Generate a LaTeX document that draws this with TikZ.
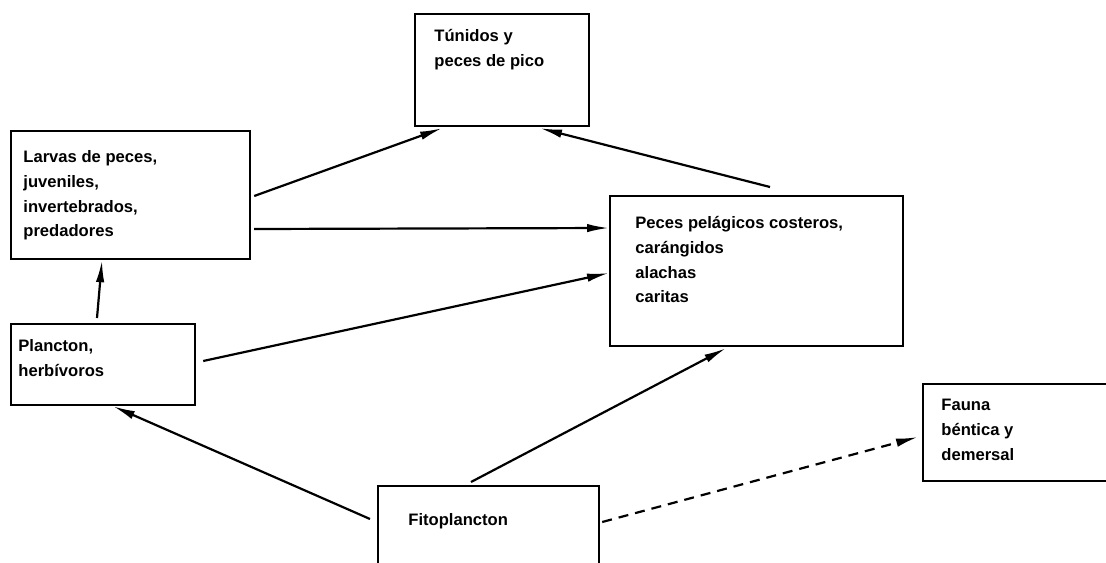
\documentclass[tikz,border=0pt]{standalone}
\usepackage{fontspec}
\setmainfont{Liberation Sans}
\usetikzlibrary{positioning,arrows.meta,calc}
\tikzset{
    x=0.5pt,
    y=-0.5pt,
    box/.style = {
        draw,
        shape=rectangle,
        anchor=north west,
        inner sep=0pt,
        line width=1.1pt
    },
    txt/.style = {
        anchor=north west,
        align=left,
        inner sep=0pt,
        font=\fontsize{8.3}{12.4}\selectfont\bfseries
    },
    link/.style = {
        draw,
        ->,
        line width=1.1pt
    },
    >={Latex[length=11pt,width=4.2pt]},
}
\begin{document}
\begin{tikzpicture}
            \useasboundingbox (0,0) rectangle (1106,562);

            \node[box, minimum width=87pt, minimum height=56pt] (tunidos) at (414,13) {};
            \node[box, minimum width=119.5pt, minimum height=64pt] (larvas) at (10,130) {};
            \node[box, minimum width=146.5pt, minimum height=75pt] (peces) at (609,195) {};
            \node[box, minimum width=92pt, minimum height=40.5pt] (plancton) at (10,323) {};
            \node[box, minimum width=100pt, minimum height=48.5pt] (fauna) at (922,383) {};
            \node[box, minimum width=110.5pt, minimum height=50pt] (fito) at (377,485) {};

            \node[txt] (tunidostxt) at ([shift={(20,16)}]tunidos.north west) {Túnidos y\\peces de pico};
            \node[txt] (larvastxt) at ([shift={(13,20)}]larvas.north west) {Larvas de peces,\\juveniles,\\invertebrados,\\predadores};
            \node[txt] (pecestxt) at ([shift={(26,21)}]peces.north west) {Peces pelágicos costeros,\\carángidos\\alachas\\caritas};
            \node[txt] (planctontxt) at ([shift={(8,16)}]plancton.north west) {Plancton,\\herbívoros};
            \node[txt] (faunatxt) at ([shift={(19,16)}]fauna.north west) {Fauna\\béntica y\\demersal};
            \node[txt] (fitotxt) at ([shift={(31,28)}]fito.north west) {Fitoplancton};

            \path[link] ([shift={(3,66)}]larvas.north east) -- ([shift={(28,1)}]tunidos.south west);
            \path[link] ([shift={(161,-8)}]peces.north west) -- ([shift={(126,1)}]tunidos.south west);
            \path[link] ([shift={(3,99)}]larvas.north east) -- ([shift={(0,33)}]peces.north west);
            \path[link] ([shift={(7,38)}]plancton.north east) -- ([shift={(0,78)}]peces.north west);
            \path[link] ([shift={(87,-5)}]plancton.north west) -- ([shift={(92,0)}]larvas.south west);
            \path[link] ([shift={(-7,34)}]fito.north west) -- ([shift={(103,0)}]plancton.south west);
            \path[link] ([shift={(94,-3)}]fito.north west) -- ([shift={(117,1)}]peces.south west);
            \path[link, dash pattern=on 5pt off 3.5pt] ([shift={(2,37)}]fito.north east) -- ([shift={(-4,54)}]fauna.north west);
        \end{tikzpicture}
\end{document}
